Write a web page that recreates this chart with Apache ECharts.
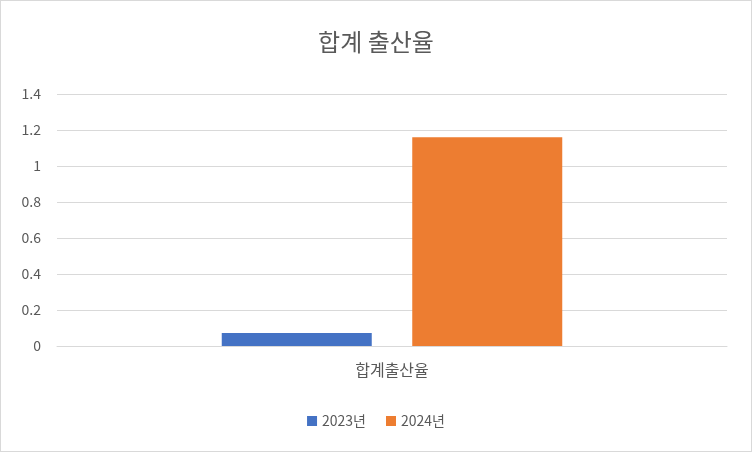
<!DOCTYPE html>
<html><head><meta charset="utf-8">
<script src="https://cdn.jsdelivr.net/npm/echarts@6/dist/echarts.min.js"></script>
<style>html,body{margin:0;padding:0;background:#fff}#c{width:750px;height:450px;border:1px solid #d9d9d9}</style>
</head><body><div id="c"></div>
<script>
const categories = ['합계출산율'];
const series2023 = [0.072];
const series2024 = [1.16];
const seriesNames = ['2023년', '2024년'];
const font = '"Noto Sans CJK KR", "Noto Sans", sans-serif';
const chart = echarts.init(document.getElementById('c'));
chart.setOption({
  animation: false,
  title: { text: '합계 출산율', left: 'center', top: 24, textStyle: { fontFamily: font, fontSize: 24, fontWeight: 'normal', color: '#595959' } },
  grid: { left: 56, right: 24, top: 93, bottom: 105, containLabel: false },
  legend: { bottom: 18, itemWidth: 10, itemHeight: 10, icon: 'rect', itemGap: 20, textStyle: { fontFamily: font, fontSize: 14, color: '#595959' }, data: seriesNames },
  xAxis: { type: 'category', data: categories, axisTick: { show: false }, axisLine: { lineStyle: { color: '#d9d9d9' } },
    axisLabel: { fontFamily: font, fontSize: 16, color: '#595959', margin: 16 } },
  yAxis: { type: 'value', min: 0, max: 1.4, interval: 0.2, axisLine: { show: false }, axisTick: { show: false },
    splitLine: { lineStyle: { color: '#d9d9d9' } },
    axisLabel: { fontFamily: font, fontSize: 14, color: '#595959', margin: 16, align: 'right', formatter: v => String(Math.round(v * 10) / 10) } },
  series: [
    { name: seriesNames[0], type: 'bar', data: series2023, barWidth: 150, barGap: '27%', itemStyle: { color: '#4472C4' } },
    { name: seriesNames[1], type: 'bar', data: series2024, barWidth: 150, barGap: '27%', itemStyle: { color: '#ED7D31' } }
  ]
});
</script></body></html>
